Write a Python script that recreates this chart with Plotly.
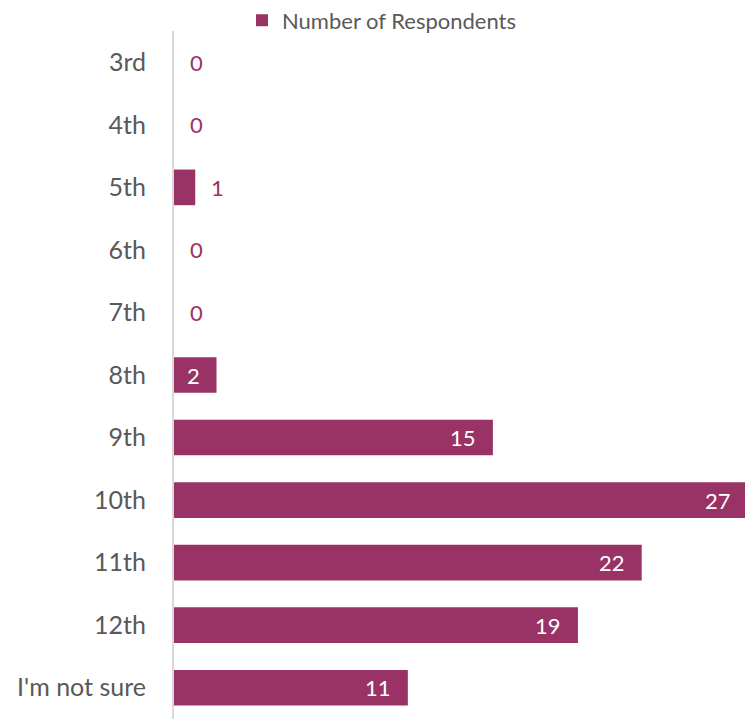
import plotly.graph_objects as go

categories = ["3rd", "4th", "5th", "6th", "7th", "8th", "9th", "10th", "11th", "12th", "I'm not sure"]
respondents = [0, 0, 1, 0, 0, 2, 15, 27, 22, 19, 11]
series_name = "Number of Respondents"

BAR_COLOR = "#993366"
FONT = "Lato"

fig = go.Figure()
fig.add_trace(go.Bar(
    y=categories,
    x=respondents,
    orientation="h",
    name=series_name,
    marker=dict(color=BAR_COLOR, line=dict(width=0)),
    showlegend=True,
    hoverinfo="x+y",
))

annotations = []
for cat, v in zip(categories, respondents):
    if v <= 1:
        annotations.append(dict(x=v, y=cat, xref="x", yref="y", text=str(v),
                                showarrow=False, xanchor="left", xshift=14,
                                font=dict(color=BAR_COLOR, size=22, family=FONT)))
    else:
        annotations.append(dict(x=v, y=cat, xref="x", yref="y", text=str(v),
                                showarrow=False, xanchor="right", xshift=-15,
                                font=dict(color="white", size=22, family=FONT)))

fig.update_layout(
    width=745, height=711,
    margin=dict(l=166, r=5, t=23, b=0, pad=0, autoexpand=False),
    paper_bgcolor="white", plot_bgcolor="white",
    font=dict(family=FONT, color="#595959"),
    bargap=0.43,
    showlegend=True,
    legend=dict(orientation="h", xref="container", yref="paper",
                x=0.502, xanchor="center", y=1.046, yanchor="top",
                font=dict(size=22, color="#595959", family=FONT),
                itemwidth=30, bgcolor="rgba(0,0,0,0)"),
    annotations=annotations,
)
fig.update_xaxes(range=[0, 27], visible=False, showgrid=False, zeroline=False)
fig.update_yaxes(autorange=False, range=[10.5, -0.5], categoryorder="array", categoryarray=categories,
                 showline=True, linecolor="#d9d9d9", linewidth=2, showgrid=False,
                 ticks="", ticklabelstandoff=21, automargin=False,
                 tickfont=dict(size=25, color="#595959", family=FONT))

fig.write_html("out.html")
